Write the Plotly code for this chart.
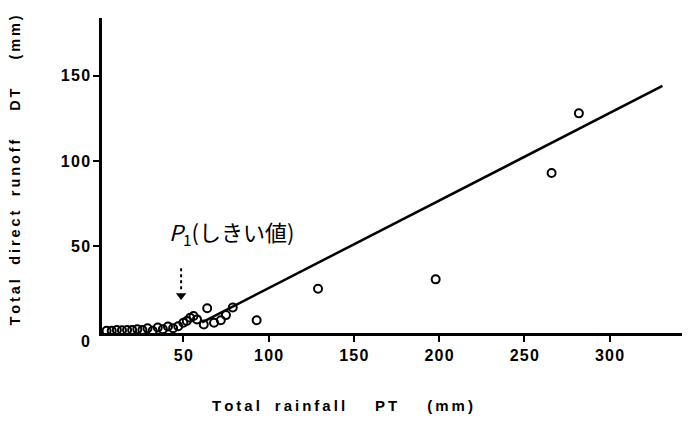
import plotly.graph_objects as go

# Data
rainfall_pt = [5, 8, 11, 14, 17, 20, 23, 26, 29, 32, 35, 38, 41, 44, 47, 50, 52, 54,
               56, 58, 62, 64, 68, 72, 75, 79, 93, 129, 198, 266, 282]
runoff_dt = [0.3, 0.3, 0.8, 0.6, 0.8, 0.8, 1.2, 0.8, 1.8, 0.3, 2.2, 1.2, 2.8, 1.8, 3, 5, 6, 8,
             9, 7, 4, 13.5, 5, 6.5, 9.5, 14, 6.5, 25, 30.5, 93, 128]

# Regression line DT = slope * (PT - threshold)
line_pt = [61, 331]
slope = 0.514
threshold = 50.7
line_dt = [slope * (p - threshold) for p in line_pt]

x_ticks = [50, 100, 150, 200, 250, 300]
y_ticks = [0, 50, 100, 150]

SP = "\u2009"


def spaced(s, sep=SP):
    return sep.join(list(s))


fig = go.Figure()
fig.add_trace(go.Scatter(x=line_pt, y=line_dt, mode="lines",
                         line=dict(color="black", width=2.5), showlegend=False,
                         hoverinfo="skip"))
fig.add_trace(go.Scatter(x=rainfall_pt, y=runoff_dt, mode="markers",
                         marker=dict(symbol="circle-open", size=8, color="black",
                                     line=dict(width=2, color="black")),
                         showlegend=False))
# dashed arrow pointing to threshold
fig.add_trace(go.Scatter(x=[48.7, 48.7], y=[37, 24], mode="lines",
                         line=dict(color="black", width=2, dash="dot"),
                         showlegend=False, hoverinfo="skip"))
fig.add_trace(go.Scatter(x=[48.7], y=[21], mode="markers",
                         marker=dict(symbol="triangle-down", size=9, color="black"),
                         showlegend=False, hoverinfo="skip"))

tickfont = dict(family="Liberation Sans", size=16, color="black")
fig.update_xaxes(range=[2.3, 346], showline=True, linecolor="black", linewidth=2.5,
                 ticks="outside", ticklen=6, tickwidth=2, tickcolor="black",
                 tickvals=x_ticks, ticktext=[f"<b>{spaced(str(v), chr(0x200a))}</b>" for v in x_ticks],
                 tickfont=tickfont, showgrid=False, zeroline=False)
fig.update_yaxes(range=[-1, 184], showline=True, linecolor="black", linewidth=2.5,
                 ticks="outside", ticklen=6, tickwidth=2, tickcolor="black",
                 tickvals=y_ticks[1:], ticktext=[f"<b>{spaced(str(v), chr(0x200a))}</b>" for v in y_ticks[1:]],
                 tickfont=tickfont, showgrid=False, zeroline=False)

fig.add_annotation(xref="paper", yref="paper", x=-0.029, y=-0.027, text="<b>0</b>",
                   showarrow=False, font=tickfont, xanchor="center", yanchor="middle")
fig.add_annotation(xref="paper", yref="paper", x=0.411, y=-0.229,
                   text="<b>" + spaced("Total") + "\u2003" + spaced("rainfall") + "\u2003\u2003"
                        + spaced("PT") + "\u2003\u2003" + spaced("(mm)") + "</b>",
                   showarrow=False, font=dict(family="Liberation Sans", size=15, color="black"),
                   xanchor="center", yanchor="middle")
fig.add_annotation(xref="paper", yref="paper", x=-0.148, y=0.517, textangle=-90,
                   text="<b>" + spaced("Total") + "\u2003" + spaced("direct") + "\u2003"
                        + spaced("runoff") + "\u2003\u2003" + spaced("DT") + "\u2003\u2003"
                        + spaced("(mm)") + "</b>",
                   showarrow=False, font=dict(family="Liberation Sans", size=14.5, color="black"),
                   xanchor="center", yanchor="middle")
fig.add_annotation(x=78.5, y=58, text="<i>P</i><sub>1</sub>(しきい値)",
                   showarrow=False, font=dict(family="Noto Sans CJK JP", size=22, color="black"))

fig.update_layout(width=682, height=417, margin=dict(l=94, r=2, t=10, b=92),
                  plot_bgcolor="white", paper_bgcolor="white")
fig.write_html("out.html")
